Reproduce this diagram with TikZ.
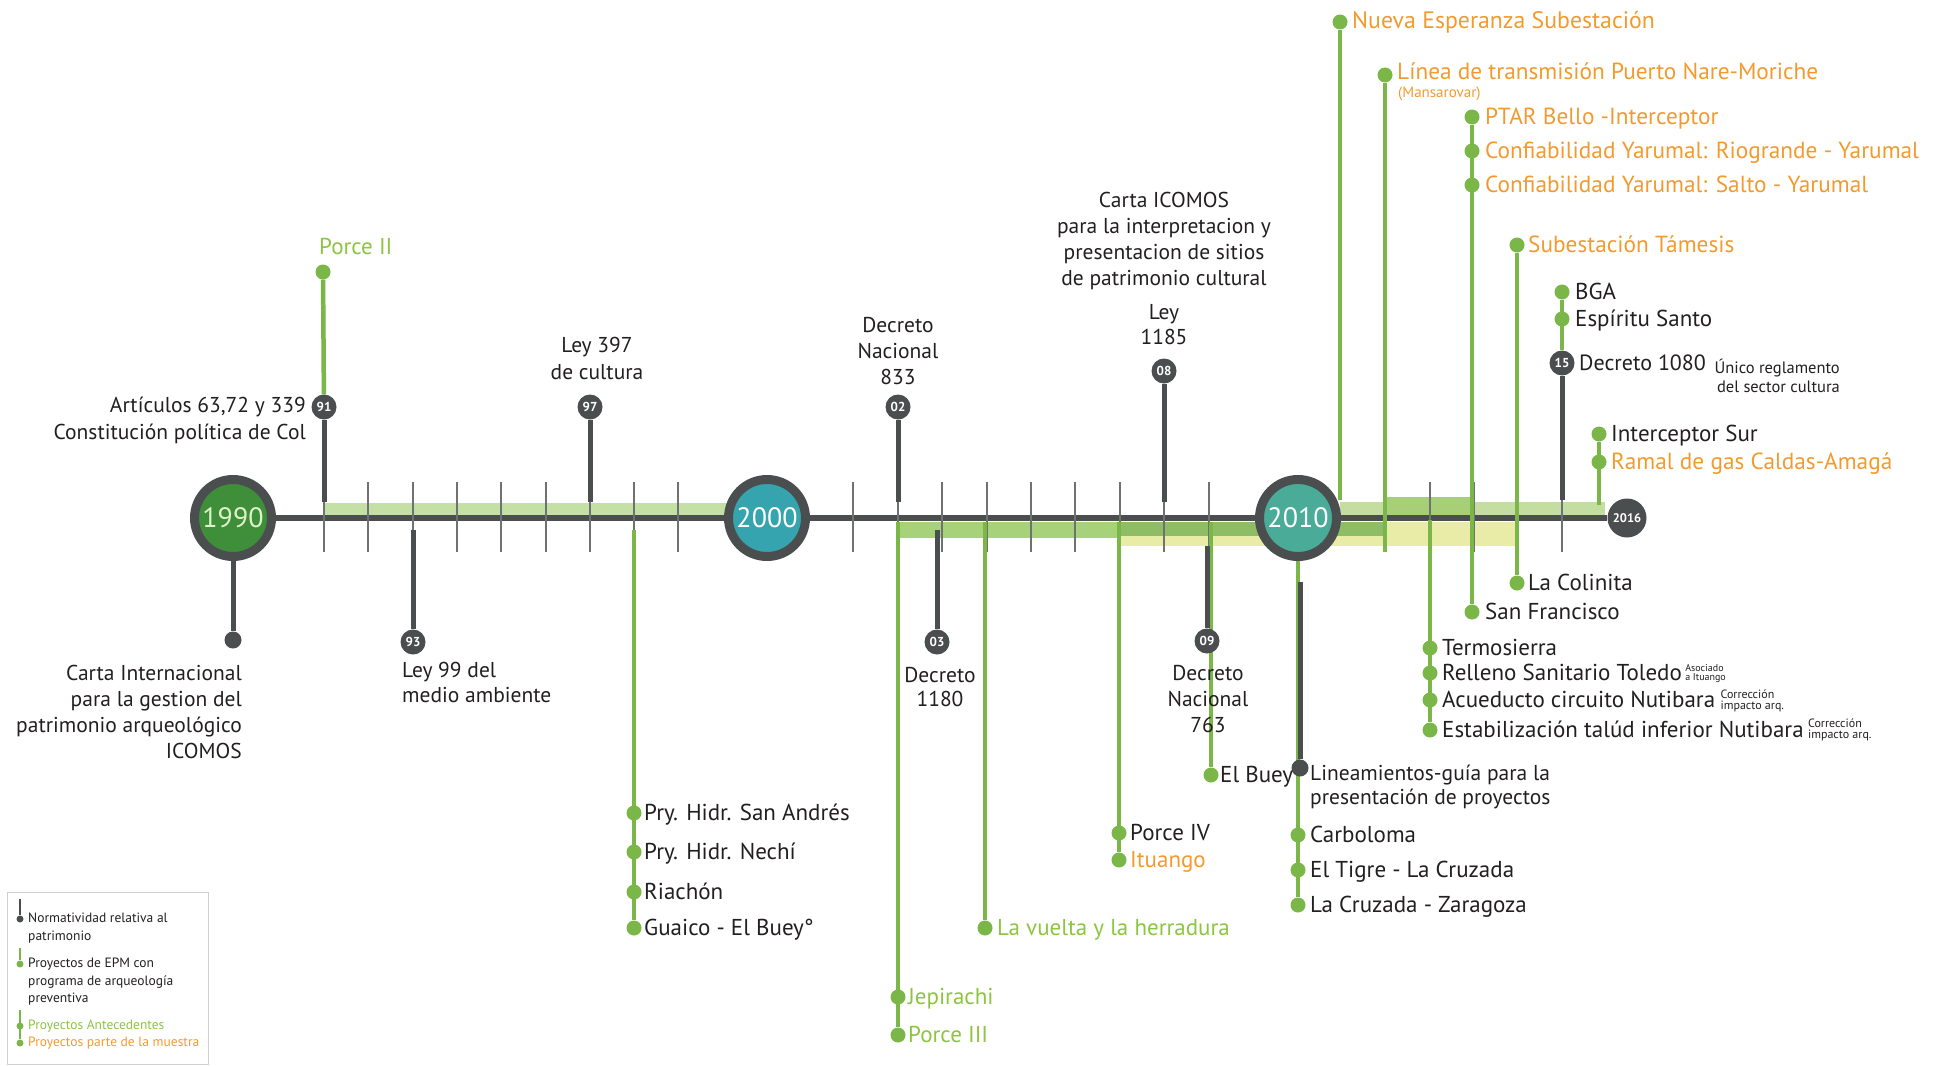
\documentclass[tikz,border=0pt]{standalone}
\usepackage{fontspec}
\setmainfont{PT Sans}
\definecolor{dgray}{HTML}{4A4E4F}
\definecolor{tickc}{HTML}{6E7273}
\definecolor{colGL}{HTML}{7AB648}
\definecolor{colGT}{HTML}{8CC540}
\definecolor{colOT}{HTML}{F39A2E}
\definecolor{colTX}{HTML}{231F20}
\definecolor{c90}{HTML}{3F8E3A}
\definecolor{t90}{HTML}{DDF2C8}
\definecolor{c00}{HTML}{36A4AE}
\definecolor{c10}{HTML}{4AAB98}
\definecolor{bA}{HTML}{C5E0A5}
\definecolor{bB}{HTML}{A8D27A}
\definecolor{bC}{HTML}{8FBD66}
\definecolor{bY}{HTML}{E9ECA6}
\definecolor{bE}{HTML}{C3DEA0}
\definecolor{bF}{HTML}{A6CF78}
\definecolor{legb}{HTML}{D0D0D0}
\pgfdeclarelayer{bands}
\pgfdeclarelayer{lines}
\pgfsetlayers{bands,lines,main}
\tikzset{
  nlbl/.style={font=\fontsize{21.5}{26}\selectfont, inner sep=0pt, text=colTX},
  lbl/.style={font=\fontsize{23}{26}\selectfont, inner sep=0pt, text=colTX},
  olbl/.style={font=\fontsize{23.3}{26}\selectfont, inner sep=0pt, text=colOT},
  glbl/.style={font=\fontsize{23}{26}\selectfont, inner sep=0pt, text=colGT},
  tiny/.style={font=\fontsize{12}{10.5}\selectfont, inner sep=0pt, text=colTX, align=left},
  leglbl/.style={font=\fontsize{13.5}{17.5}\selectfont, inner sep=0pt, align=left, anchor=north west},
  gdot/.style={circle, fill=colGL, minimum size=15pt, inner sep=0pt},
  ndot/.style={circle, fill=dgray, minimum size=17pt, inner sep=0pt},
  yr/.style={circle, fill=dgray, minimum size=25pt, inner sep=0pt, text=white, font=\fontsize{13}{13}\selectfont\bfseries},
  bigc/.style={circle, draw=dgray, line width=9pt, minimum size=77pt, inner sep=0pt, text=white, font=\fontsize{28}{28}\selectfont},
  endc/.style={circle, fill=dgray, minimum size=39pt, inner sep=0pt, text=white, font=\fontsize{12.5}{12.5}\selectfont\bfseries},
  glin/.style={draw=colGL, line width=4.5pt},
  dlin/.style={draw=dgray, line width=5pt},
  axis/.style={draw=dgray, line width=6pt},
  tickl/.style={draw=tickc, line width=1.8pt},
}
\begin{document}
\begin{tikzpicture}[x=1pt,y=-1pt]
\useasboundingbox (0,0) rectangle (1940,1065);

% ---- bands
\begin{pgfonlayer}{bands}
\fill[bA] (323,503) rectangle (730,515);
\fill[bB] (898,522) rectangle (1120,538);
\fill[bY] (1120,522) rectangle (1518,546);
\fill[bC] (1120,522) rectangle (1385,536);
\fill[bE] (1340,502) rectangle (1605,515);
\fill[bF] (1385,497) rectangle (1472,515);
\end{pgfonlayer}

% ---- year circles
\node[bigc, fill=c90, text=t90] (c1990) at (233,518) {1990};
\node[bigc, fill=c00] (c2000) at (767,518) {2000};
\node[bigc, fill=c10] (c2010) at (1298,518) {2010};
\node[endc] (c2016) at (1627,518) {2016};

\begin{pgfonlayer}{lines}
\draw[axis] (c1990) -- (c2000) -- (c2010) -- (c2016);
\foreach \x in {324,368,413,457,501,546,590,634,678,853,898,942,987,1031,1075,1120,1164,1209,1385,1430,1474,1518,1562}
  \draw[tickl] (\x,482) -- (\x,552);
\end{pgfonlayer}

% ---- normatividad markers
\node[yr] (y91) at (324,407) {91};
\node[yr] (y93) at (413,642) {93};
\node[yr] (y97) at (590,407) {97};
\node[yr] (y02) at (898,407) {02};
\node[yr] (y03) at (937,642) {03};
\node[yr] (y08) at (1164,371) {08};
\node[yr] (y09) at (1207,641) {09};
\node[yr] (y15) at (1562,363) {15};
\node[ndot] (n1990) at (233,640) {};
\node[ndot] (n2010) at (1300,768) {};
\coordinate (a91) at (324,502);
\coordinate (a93) at (413,530);
\coordinate (a97) at (590,502);
\coordinate (a02) at (898,502);
\coordinate (a03) at (937,530);
\coordinate (a08) at (1164,502);
\coordinate (a09) at (1207,546);
\coordinate (a15) at (1562,500);
\coordinate (s2010) at (1300,582);

% ---- green project dots
\node[gdot] (pII) at (323,272) {};
\node[gdot] (ne) at (1340,22) {};
\node[gdot] (lt) at (1385,75) {};
\node[gdot] (pt1) at (1472,117) {};
\node[gdot] (pt2) at (1472,151) {};
\node[gdot] (pt3) at (1472,185) {};
\node[gdot] (sf) at (1472,612) {};
\node[gdot] (tm) at (1517,245) {};
\node[gdot] (lc) at (1517,583) {};
\node[gdot] (bga) at (1562,292) {};
\node[gdot] (es) at (1562,319) {};
\node[gdot] (is) at (1599,434) {};
\node[gdot] (rg) at (1599,462) {};
\node[gdot] (ts1) at (1430,648) {};
\node[gdot] (ts2) at (1430,673) {};
\node[gdot] (ts3) at (1430,700) {};
\node[gdot] (ts4) at (1430,730) {};
\node[gdot] (cb) at (1298,835) {};
\node[gdot] (et) at (1298,870) {};
\node[gdot] (lcz) at (1298,905) {};
\node[gdot] (eb) at (1211,775) {};
\node[gdot] (p4) at (1119,833) {};
\node[gdot] (itu) at (1119,860) {};
\node[gdot] (lv) at (985,928) {};
\node[gdot] (jp) at (898,997) {};
\node[gdot] (p3) at (898,1035) {};
\node[gdot] (sa1) at (634,813) {};
\node[gdot] (sa2) at (634,852) {};
\node[gdot] (sa3) at (634,892) {};
\node[gdot] (sa4) at (634,928) {};
\coordinate (ne0) at (1340,500);
\coordinate (lt0) at (1385,552);
\coordinate (is0) at (1599,505);
\coordinate (ts0) at (1430,520);
\coordinate (eb0) at (1211,522);
\coordinate (p40) at (1119,522);
\coordinate (lv0) at (985,522);
\coordinate (jp0) at (898,522);
\coordinate (sa0) at (634,530);

\begin{pgfonlayer}{lines}
\draw[glin] (pII) -- (y91);
\draw[glin] (ne) -- (ne0);
\draw[glin] (lt) -- (lt0);
\draw[glin] (pt1) -- (sf);
\draw[glin] (tm) -- (lc);
\draw[glin] (bga) -- (y15);
\draw[glin] (is) -- (is0);
\draw[glin] (ts0) -- (ts4);
\draw[glin] (c2010) -- (lcz);
\draw[glin] (eb0) -- (eb);
\draw[glin] (p40) -- (itu);
\draw[glin] (lv0) -- (lv);
\draw[glin] (jp0) -- (p3);
\draw[glin] (sa0) -- (sa4);
\draw[dlin] (c1990) -- (n1990);
\draw[dlin] (y91) -- (a91);
\draw[dlin] (a93) -- (y93);
\draw[dlin] (y97) -- (a97);
\draw[dlin] (y02) -- (a02);
\draw[dlin] (a03) -- (y03);
\draw[dlin] (y08) -- (a08);
\draw[dlin] (a09) -- (y09);
\draw[dlin] (y15) -- (a15);
\draw[dlin] (s2010) -- (n2010);
\end{pgfonlayer}

% ---- normatividad texts
\node[nlbl, align=right, anchor=north east] (t1990) at (242,665)
  {Carta Internacional\\para la gestion del\\patrimonio arqueológico\\ICOMOS};
\node[nlbl, align=right, anchor=north east, font=\fontsize{21.5}{27}\selectfont] (t91) at (306,397)
  {Artículos 63,72 y 339\\Constitución política de Col};
\node[nlbl, align=left, anchor=north west, font=\fontsize{21.5}{25}\selectfont] (t93) at (402,662)
  {Ley 99 del\\medio ambiente};
\node[nlbl, align=center, anchor=north, font=\fontsize{21.5}{27}\selectfont] (t97) at (597,337)
  {Ley 397\\de cultura};
\node[nlbl, align=center, anchor=north] (t02) at (898,317)
  {Decreto\\Nacional\\833};
\node[nlbl, align=center, anchor=north, font=\fontsize{21.5}{24}\selectfont] (t03) at (940,667)
  {Decreto\\1180};
\node[nlbl, align=center, anchor=north] (t08a) at (1164,192)
  {Carta ICOMOS\\para la interpretacion y\\presentacion de sitios\\de patrimonio cultural};
\node[nlbl, align=center, anchor=north, font=\fontsize{21.5}{25}\selectfont] (t08b) at (1164,304)
  {Ley\\1185};
\node[nlbl, align=center, anchor=north] (t09) at (1208,665)
  {Decreto\\Nacional\\763};
\node[nlbl, align=left, anchor=north west, font=\fontsize{21.5}{24}\selectfont] (t2010) at (1310,765)
  {Lineamientos-guía para la\\presentación de proyectos};
\node[lbl, anchor=base west, font=\fontsize{22}{26}\selectfont] (t15) at (1579,370) {Decreto 1080};
\node[nlbl, align=right, anchor=north east, font=\fontsize{16.5}{19}\selectfont] (t15b) at (1840,359)
  {Único reglamento\\del sector cultura};

% ---- project texts
\node[glbl, anchor=base west] (tpII) at (319,254) {Porce II};
\node[olbl, anchor=base west, font=\fontsize{23.8}{26}\selectfont] (tne) at (1352,29) {Nueva Esperanza Subestación};
\node[olbl, anchor=base west] (tlt) at (1397,79) {Línea de transmisión Puerto Nare-Moriche};
\node[olbl, anchor=base west, font=\fontsize{15}{15}\selectfont] (tlt2) at (1398,97) {(Mansarovar)};
\node[olbl, anchor=base west] (tpt1) at (1485,124) {PTAR Bello -Interceptor};
\node[olbl, anchor=base west] (tpt2) at (1485,158) {Confiabilidad Yarumal: Riogrande - Yarumal};
\node[olbl, anchor=base west] (tpt3) at (1485,192) {Confiabilidad Yarumal: Salto - Yarumal};
\node[olbl, anchor=base west] (ttm) at (1528,252) {Subestación Támesis};
\node[lbl, anchor=base west] (tbga) at (1575,299) {BGA};
\node[lbl, anchor=base west] (tes) at (1575,326) {Espíritu Santo};
\node[lbl, anchor=base west] (tis) at (1611,441) {Interceptor Sur};
\node[olbl, anchor=base west] (trg) at (1611,469) {Ramal de gas Caldas-Amagá};
\node[lbl, anchor=base west] (tlc) at (1528,590) {La Colinita};
\node[lbl, anchor=base west] (tsf) at (1485,619) {San Francisco};
\node[lbl, anchor=base west] (tts1) at (1442,655) {Termosierra};
\node[lbl, anchor=base west] (tts2) at (1442,680) {Relleno Sanitario Toledo};
\node[lbl, anchor=base west] (tts3) at (1442,707) {Acueducto circuito Nutibara};
\node[lbl, anchor=base west] (tts4) at (1442,737) {Estabilización talúd inferior Nutibara};
\node[tiny, anchor=west, font=\fontsize{10}{9}\selectfont] (ann1) at ([xshift=3pt,yshift=-2pt]tts2.east) {Asociado\\a Ituango};
\node[tiny, anchor=west] (ann2) at ([xshift=5pt,yshift=-2pt]tts3.east) {Corrección\\impacto arq.};
\node[tiny, anchor=west] (ann3) at ([xshift=4pt,yshift=-1pt]tts4.east) {Corrección\\impacto arq.};
\node[lbl, anchor=base west] (tcb) at (1310,842) {Carboloma};
\node[lbl, anchor=base west] (tet) at (1310,877) {El Tigre - La Cruzada};
\node[lbl, anchor=base west] (tlcz) at (1310,912) {La Cruzada - Zaragoza};
\node[lbl, anchor=base west] (teb) at (1220,782) {El Buey};
\node[lbl, anchor=base west] (tp4) at (1130,840) {Porce IV};
\node[olbl, anchor=base west, font=\fontsize{23}{26}\selectfont] (titu) at (1130,867) {Ituango};
\node[glbl, anchor=base west] (tlv) at (997,935) {La vuelta y la herradura};
\node[glbl, anchor=base west] (tjp) at (908,1004) {Jepirachi};
\node[glbl, anchor=base west] (tp3) at (908,1042) {Porce III};
\node[lbl, anchor=base west] (tsa1) at (644,820) {Pry. Hidr. San Andrés};
\node[lbl, anchor=base west] (tsa2) at (644,859) {Pry. Hidr. Nechí};
\node[lbl, anchor=base west] (tsa3) at (644,899) {Riachón};
\node[lbl, anchor=base west] (tsa4) at (644,935) {Guaico - El Buey°};

% ---- legend
\node[draw=legb, line width=1pt, minimum width=201pt, minimum height=172pt, anchor=north west, inner sep=0pt] (leg) at (7,892) {};
\node[circle, fill=dgray, minimum size=7pt, inner sep=0pt] (lg1) at (20,919) {};
\coordinate (lg1t) at (20,899);
\draw[draw=dgray, line width=1.5pt] (lg1t) -- (lg1);
\node[circle, fill=colGL, minimum size=7pt, inner sep=0pt] (lg2) at (20,964) {};
\coordinate (lg2t) at (20,948);
\draw[draw=colGL, line width=1.5pt] (lg2t) -- (lg2);
\node[circle, fill=colGL, minimum size=7pt, inner sep=0pt] (lg3) at (20,1026) {};
\node[circle, fill=colGL, minimum size=7pt, inner sep=0pt] (lg4) at (20,1043) {};
\coordinate (lg3t) at (20,1010);
\draw[draw=colGL, line width=1.5pt] (lg3t) -- (lg4);
\node[leglbl, text=colTX] (lgt1) at (28,913) {Normatividad relativa al\\patrimonio};
\node[leglbl, text=colTX] (lgt2) at (28,958) {Proyectos de EPM con\\programa de arqueología\\preventiva};
\node[leglbl, text=colGT] (lgt3) at (28,1020) {Proyectos Antecedentes};
\node[leglbl, text=colOT] (lgt4) at (28,1037) {Proyectos parte de la muestra};
\end{tikzpicture}
\end{document}
